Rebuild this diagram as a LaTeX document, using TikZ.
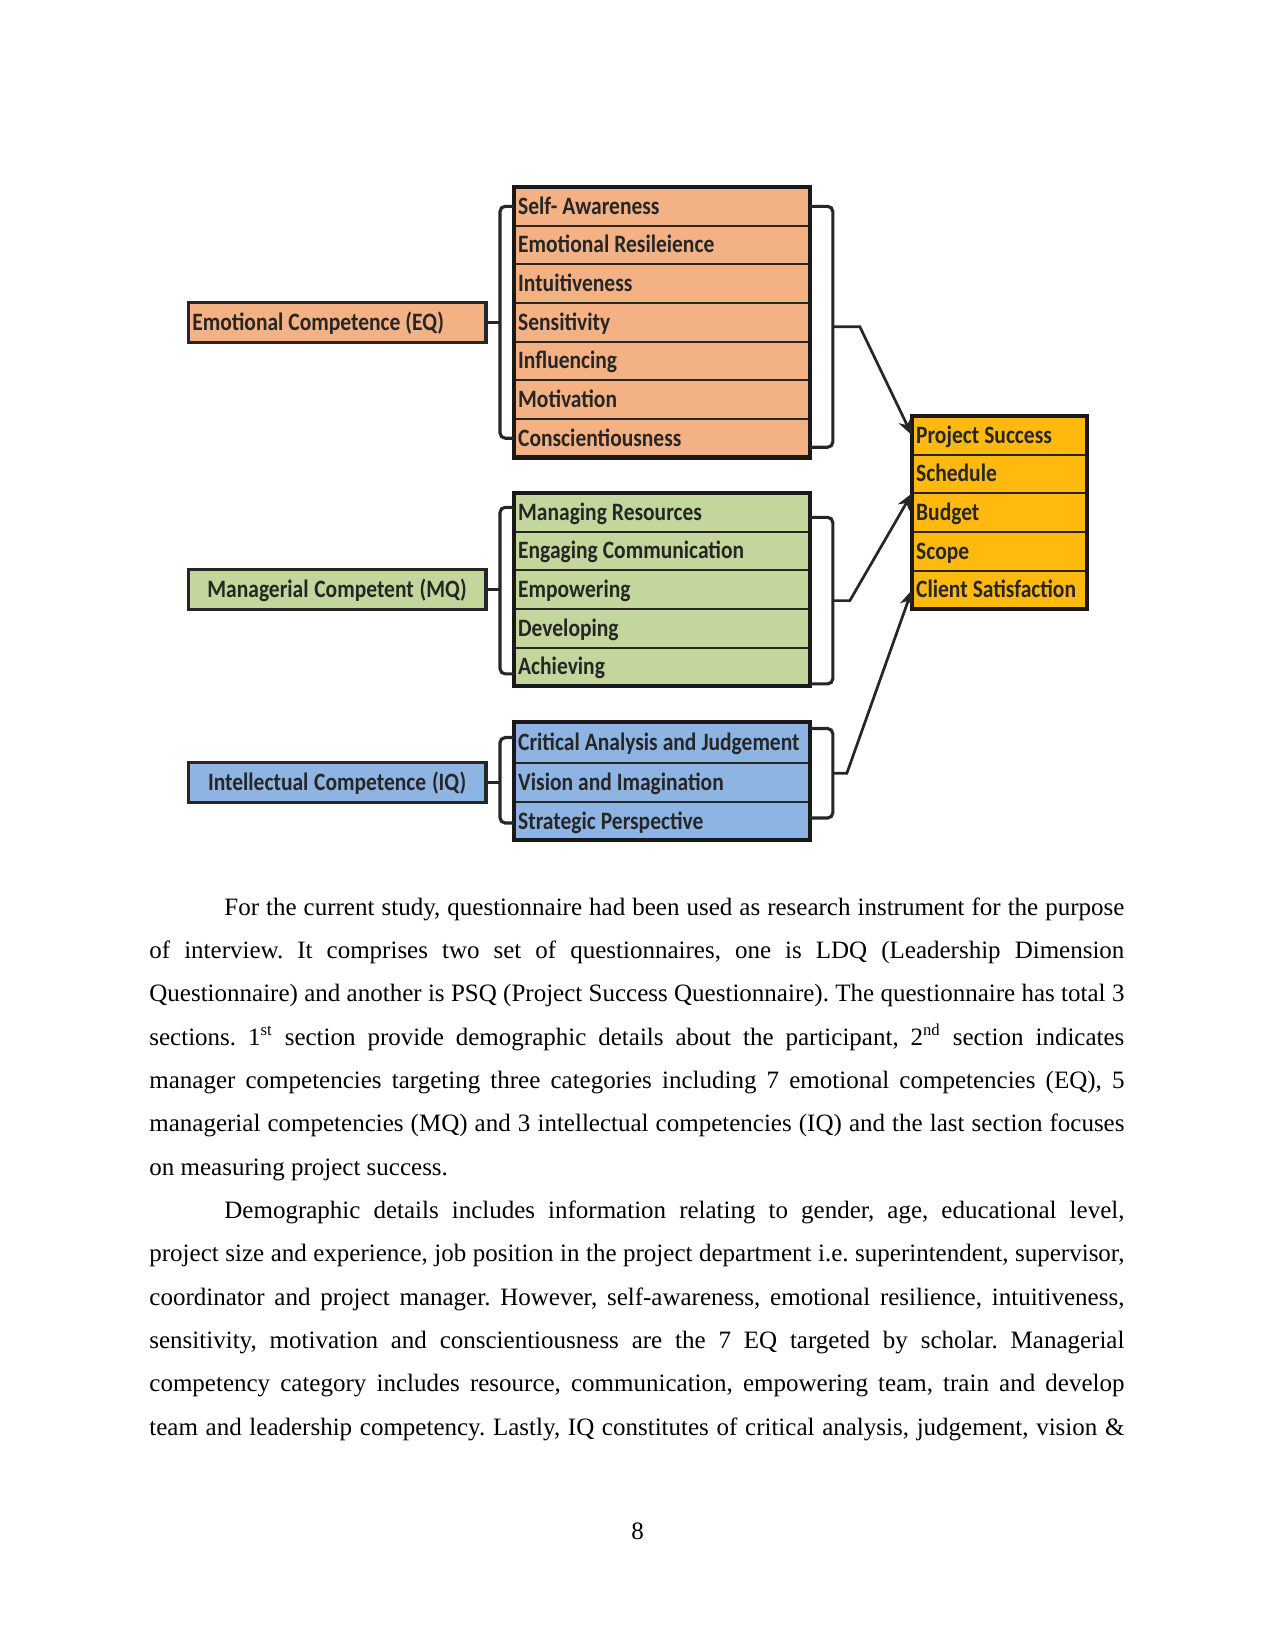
\documentclass[tikz,border=0pt]{standalone}
\usepackage{fontspec}
\setmainfont{Liberation Serif}
\newfontfamily\boxfont[FakeStretch=0.86]{Carlito}
\usetikzlibrary{arrows.meta, positioning, fit, calc}
\definecolor{eqfill}{RGB}{244,177,131}
\definecolor{mqfill}{RGB}{195,214,155}
\definecolor{iqfill}{RGB}{142,180,227}
\definecolor{psfill}{RGB}{255,185,15}
\tikzset{
  row/.style={rectangle, draw=black!85, line width=0.9pt, outer sep=0pt,
              inner xsep=2pt, inner ysep=0pt, text width=138pt, align=left,
              minimum height=18.55pt, text height=7.7pt, text depth=0pt,
              font=\boxfont\bfseries\fontsize{12pt}{14pt}\selectfont, text=black!85,
              execute at begin node={\spaceskip=0.2em plus 0.1em\relax}},
  eqrow/.style={row, fill=eqfill},
  mqrow/.style={row, fill=mqfill},
  iqrow/.style={row, fill=iqfill},
  psrow/.style={row, fill=psfill, text width=80pt},
  group/.style={rectangle, draw=black!90, line width=2pt, inner sep=0pt},
  catbox/.style={rectangle, draw=black!85, line width=1.6pt, outer sep=0pt,
                 inner xsep=2pt, inner ysep=0pt, text width=139pt,
                 minimum height=19.2pt, text height=7.7pt, text depth=0pt,
                 font=\boxfont\bfseries\fontsize{12pt}{14pt}\selectfont, text=black!85,
                 execute at begin node={\spaceskip=0.2em plus 0.1em\relax}},
  brace/.style={line width=1.5pt, draw=black!85, rounded corners=2.5pt},
  arrow/.style={-{Stealth[length=8pt, width=6.5pt]}, line width=1.3pt, draw=black!85},
  bodytext/.style={inner sep=0pt, text width=468pt, align=justify,
                   font=\fontsize{12pt}{20.8pt}\selectfont},
}

\begin{document}
\begin{tikzpicture}[x=0.48pt, y=-0.48pt, node distance=0pt]
  \useasboundingbox (0,0) rectangle (1275,1650);

  % Emotional competence rows
  \node[eqrow, anchor=north west] (eq1) at (514,187) {Self- Awareness};
  \node[eqrow, below=of eq1] (eq2) {Emotional Resileience};
  \node[eqrow, below=of eq2] (eq3) {Intuitiveness};
  \node[eqrow, below=of eq3] (eq4) {Sensitivity};
  \node[eqrow, below=of eq4] (eq5) {Influencing};
  \node[eqrow, below=of eq5] (eq6) {Motivation};
  \node[eqrow, below=of eq6] (eq7) {Conscientiousness};
  \node[group, fit=(eq1)(eq7)] (eqgroup) {};
  \node[catbox, fill=eqfill, align=left, left=13.4pt of eq4] (eqcat) {Emotional Competence (EQ)};

  % Managerial competence rows
  \node[mqrow, anchor=north west] (mq1) at (514,493) {Managing Resources};
  \node[mqrow, below=of mq1] (mq2) {Engaging Communication};
  \node[mqrow, below=of mq2] (mq3) {Empowering};
  \node[mqrow, below=of mq3] (mq4) {Developing};
  \node[mqrow, below=of mq4] (mq5) {Achieving};
  \node[group, fit=(mq1)(mq5)] (mqgroup) {};
  \node[catbox, fill=mqfill, align=center, left=13.4pt of mq3] (mqcat) {Managerial Competent (MQ)};

  % Intellectual competence rows
  \node[iqrow, anchor=north west, minimum height=19.7pt] (iq1) at (514,722) {Critical Analysis and Judgement};
  \node[iqrow, below=of iq1] (iq2) {Vision and Imagination};
  \node[iqrow, below=of iq2] (iq3) {Strategic Perspective};
  \node[group, fit=(iq1)(iq3)] (iqgroup) {};
  \node[catbox, fill=iqfill, align=center, left=13.4pt of iq2] (iqcat) {Intellectual Competence (IQ)};

  % Project success rows
  \node[psrow, anchor=north west] (ps1) at (912,416) {Project Success};
  \node[psrow, below=of ps1] (ps2) {Schedule};
  \node[psrow, below=of ps2] (ps3) {Budget};
  \node[psrow, below=of ps3] (ps4) {Scope};
  \node[psrow, below=of ps4] (ps5) {Client Satisfaction};
  \node[group, fit=(ps1)(ps5)] (psgroup) {};

  % Left brackets
  \coordinate (eqL) at ($(eq1.west)+(-14,0)$);
  \coordinate (mqL) at ($(mq1.west)+(-14,-5)$);
  \coordinate (iqL) at ($(iq1.west)+(-14,-5)$);
  \draw[brace] (eq1.west) -- (eqL) |- (eq7.west);
  \draw[brace] ($(mq1.west)+(0,-5)$) -- (mqL) |- ($(mq5.west)+(0,7)$);
  \draw[brace] ($(iq1.west)+(0,-5)$) -- (iqL) |- ($(iq3.west)+(0,2)$);
  \draw[brace] (eqcat.east) -- (eqcat.east -| eqL);
  \draw[brace] (mqcat.east) -- (mqcat.east -| mqL);
  \draw[brace] (iqcat.east) -- (iqcat.east -| iqL);

  % Right brackets
  \coordinate (eqR) at ($(eq1.east)+(23,0)$);
  \coordinate (mqR) at ($(mq1.east)+(23,5)$);
  \coordinate (iqR) at ($(iq1.east)+(23,-14)$);
  \draw[brace] (eq1.east) -- (eqR) |- ($(eq7.east)+(0,9)$) coordinate (eqRb);
  \draw[brace] ($(mq1.east)+(0,5)$) -- (mqR) |- ($(mq5.east)+(0,17)$) coordinate (mqRb);
  \draw[brace] ($(iq1.east)+(0,-14)$) -- (iqR) |- ($(iq3.east)+(0,-3)$) coordinate (iqRb);

  % Arrows to project success
  \draw[arrow] ($(eqR)!0.5!(eqR |- eqRb)$) -- ++(27,0) -- (ps1.west);
  \draw[arrow] ($(mqR)!0.5!(mqR |- mqRb)$) -- ++(17,0) -- (ps2.south west);
  \draw[arrow] ($(iqR)!0.5!(iqR |- iqRb)$) -- ++(14,0) -- (ps5.west);

  % Body text
  \node[bodytext, anchor=base west] (body) at (149,915) {\frenchspacing
    \tolerance=9999 \hyphenpenalty=10000 \exhyphenpenalty=10000
    \hspace*{36pt}For the current study, questionnaire had been used as research instrument for the purpose\linebreak
    of interview. It comprises two set of questionnaires, one is LDQ (Leadership Dimension\linebreak
    Questionnaire) and another is PSQ (Project Success Questionnaire). The questionnaire has total 3\linebreak
    sections. 1\textsuperscript{st} section provide demographic details about the participant, 2\textsuperscript{nd} section indicates\linebreak
    manager competencies targeting three categories including 7 emotional competencies (EQ), 5\linebreak
    managerial competencies (MQ) and 3 intellectual competencies (IQ) and the last section focuses\linebreak
    on measuring project success.\par
    \parfillskip=0pt
    \hspace*{36pt}Demographic details includes information relating to gender, age, educational level,\linebreak
    project size and experience, job position in the project department i.e. superintendent, supervisor,\linebreak
    coordinator and project manager. However, self-awareness, emotional resilience, intuitiveness,\linebreak
    sensitivity, motivation and conscientiousness are the 7 EQ targeted by scholar. Managerial\linebreak
    competency category includes resource, communication, empowering team, train and develop\linebreak
    team and leadership competency. Lastly, IQ constitutes of critical analysis, judgement, vision \&\par};
  \node[font=\fontsize{12pt}{14pt}\selectfont, anchor=base] (pagenum) at (637.5,1539) {8};
\end{tikzpicture}
\end{document}
